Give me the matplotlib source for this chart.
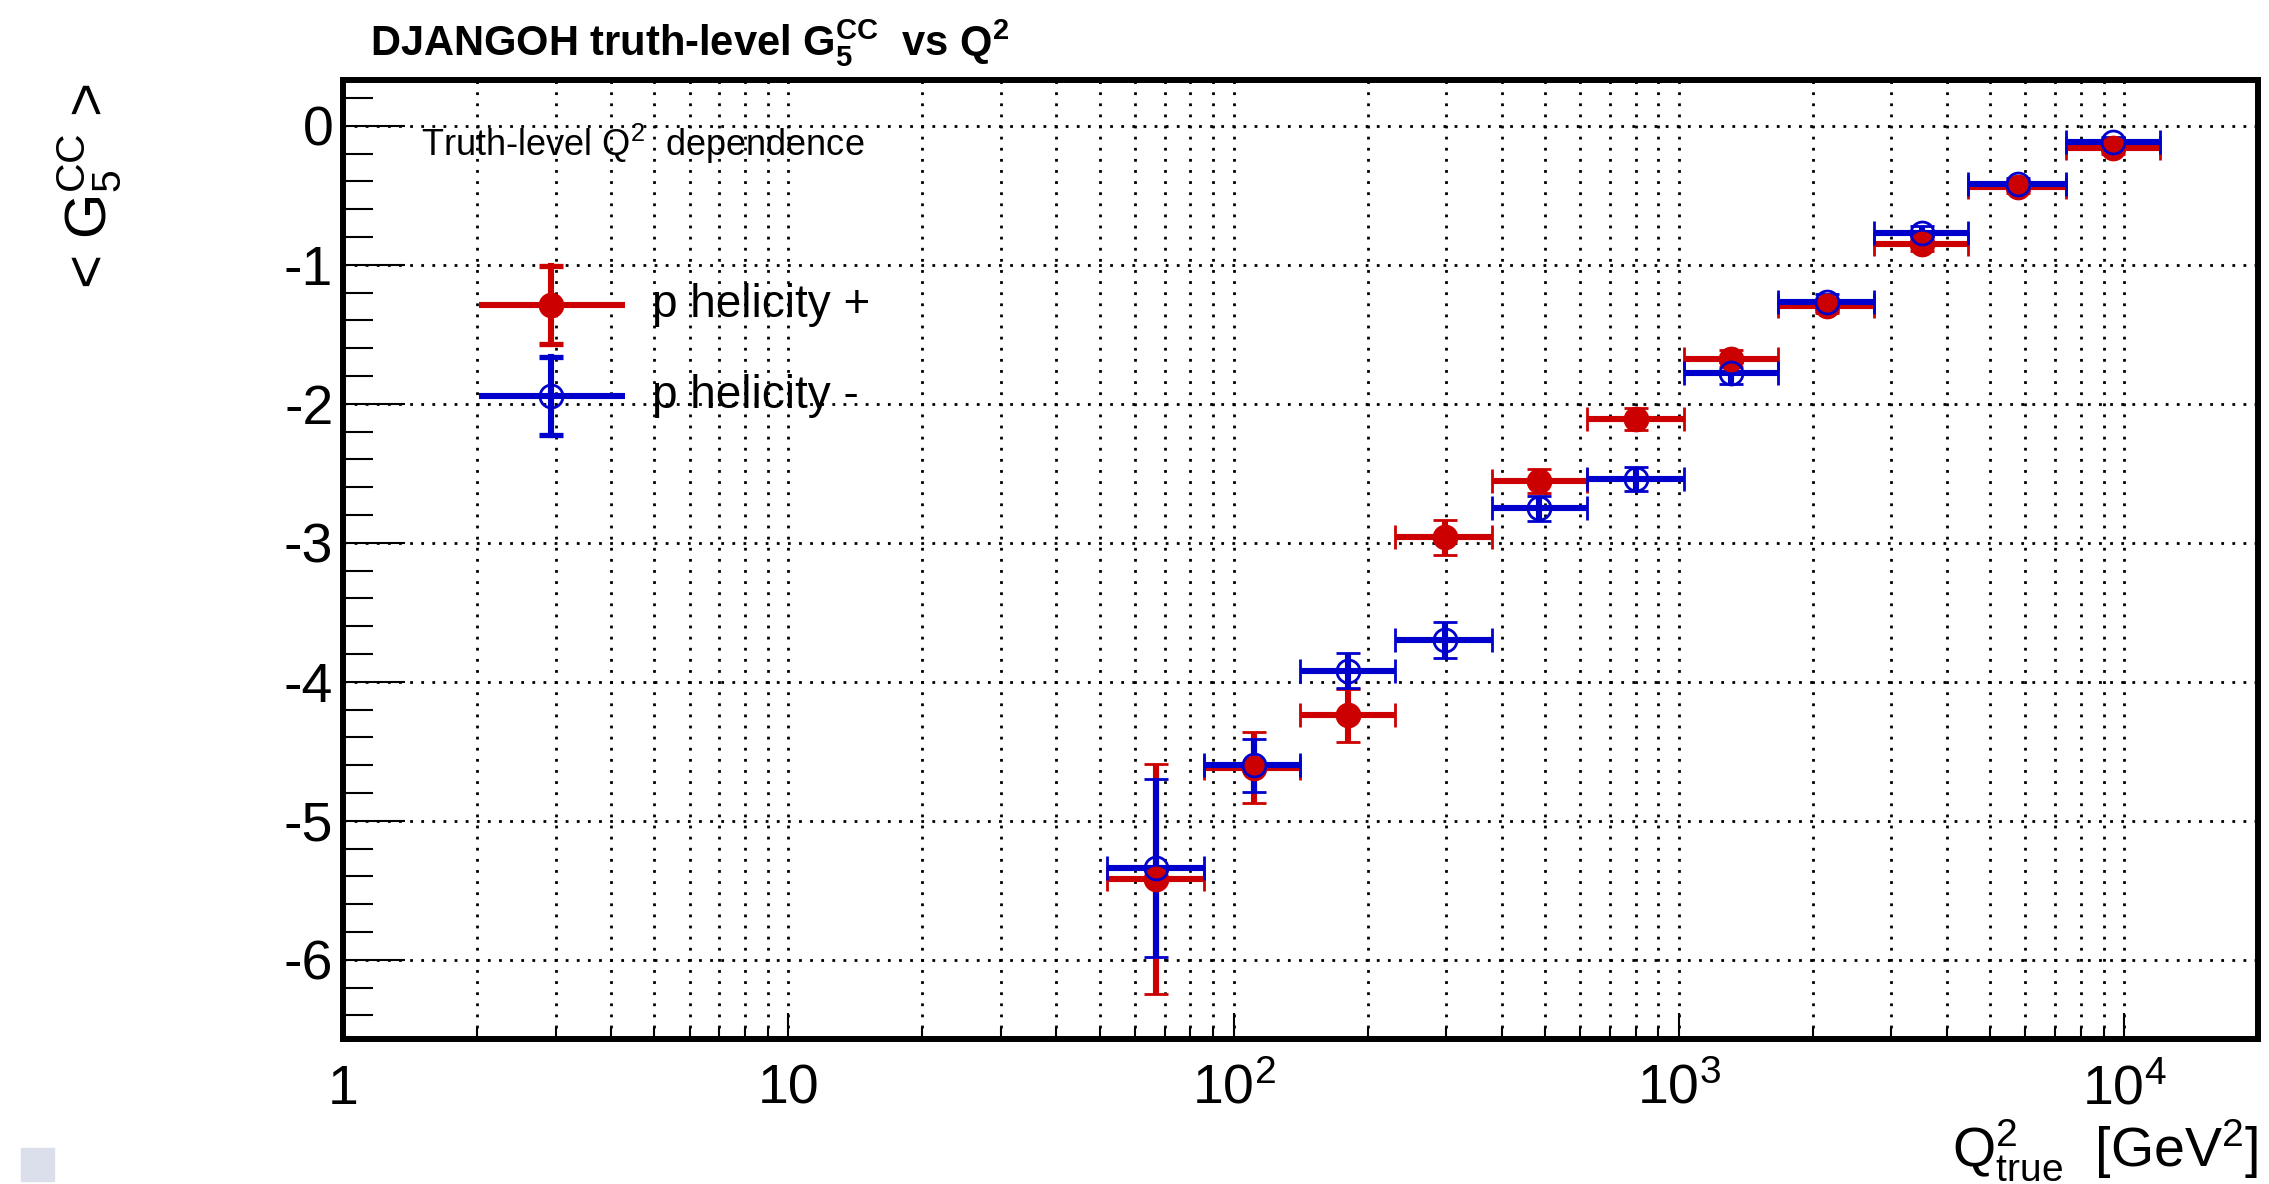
import matplotlib
matplotlib.use('Agg')
import matplotlib.pyplot as plt
from matplotlib.patches import Rectangle
from matplotlib.ticker import FixedLocator, FixedFormatter, LogLocator, MultipleLocator, NullFormatter

# Q^2 binning (GeV^2): point position and bin edges
q2_center = [67, 111, 181, 298, 485, 800, 1307, 2155, 3520, 5780, 9440]
q2_low = [52, 86, 141, 231, 381, 621, 1025, 1670, 2750, 4470, 7400]
q2_high = [86, 141, 231, 381, 621, 1025, 1670, 2750, 4470, 7400, 12050]

# <G5^CC> per bin for each proton helicity
g5_plus = [-5.42, -4.62, -4.24, -2.96, -2.555, -2.11, -1.675, -1.30, -0.85, -0.44, -0.16]
g5_plus_err = [0.83, 0.255, 0.19, 0.125, 0.085, 0.08, 0.06, 0.05, 0.05, 0.04, 0.04]
g5_minus = [-5.34, -4.60, -3.92, -3.70, -2.75, -2.54, -1.78, -1.27, -0.77, -0.42, -0.12]
g5_minus_err = [0.64, 0.19, 0.128, 0.127, 0.09, 0.087, 0.077, 0.06, 0.05, 0.045, 0.04]

x_tick_values = [1, 10, 100, 1000, 10000]
x_tick_labels = ['1', '10', r'$\mathregular{10^{2}}$', r'$\mathregular{10^{3}}$', r'$\mathregular{10^{4}}$']
y_tick_values = [0, -1, -2, -3, -4, -5, -6]
y_tick_labels = ['0', '-1', '-2', '-3', '-4', '-5', '-6']

series = [
	('p helicity +', g5_plus, g5_plus_err, '#cc0000', True),
	('p helicity -', g5_minus, g5_minus_err, '#0000cc', False),
]

plt.rcParams['font.family'] = ['Liberation Sans', 'DejaVu Sans']
plt.rcParams['mathtext.fontset'] = 'custom'
plt.rcParams['mathtext.rm'] = 'Liberation Sans'
plt.rcParams['mathtext.it'] = 'Liberation Sans:italic'
plt.rcParams['mathtext.bf'] = 'Liberation Sans:bold'

fig = plt.figure(figsize=(22.69, 11.84), dpi=100)
ax = fig.add_axes([0.1512, 0.1225, 0.844, 0.810])

LW = 4.4
CAP = 8.3
CAPW = 3.8
MS = 16.5

for label, vals, errs, color, filled in series:
	xerr = [[c - lo for c, lo in zip(q2_center, q2_low)],
			[hi - c for c, hi in zip(q2_center, q2_high)]]
	ax.errorbar(q2_center, vals, xerr=xerr, yerr=errs, fmt='o', color=color,
				ecolor=color, elinewidth=LW, capsize=CAP, capthick=CAPW,
				markersize=MS, markeredgewidth=2.0,
				markerfacecolor=color if filled else 'none',
				markeredgecolor=color, zorder=3)

ax.set_xscale('log')
ax.set_xlim(1, 2e4)
ax.set_ylim(-6.57, 0.33)

ax.xaxis.set_major_locator(FixedLocator(x_tick_values))
ax.xaxis.set_major_formatter(FixedFormatter(x_tick_labels))
ax.xaxis.set_minor_locator(LogLocator(base=10, subs=range(2, 10), numticks=20))
ax.xaxis.set_minor_formatter(NullFormatter())
ax.yaxis.set_major_locator(FixedLocator(y_tick_values))
ax.yaxis.set_major_formatter(FixedFormatter(y_tick_labels))
ax.yaxis.set_minor_locator(MultipleLocator(0.2))

ax.tick_params(which='both', direction='in', top=False, right=False, width=1.5, color='black')
ax.tick_params(axis='y', which='major', length=44.6, pad=7, labelsize=40)
ax.tick_params(axis='y', which='minor', length=21.6)
ax.tick_params(axis='x', which='major', length=19, pad=18, labelsize=40)
ax.tick_params(axis='x', which='minor', length=9)

grid_style = dict(color='black', linestyle=(0, (1, 3)), linewidth=2.0)
ax.grid(True, axis='x', which='both', **grid_style)
ax.grid(True, axis='y', which='major', **grid_style)
ax.set_axisbelow(True)

for side in ax.spines.values():
	side.set_linewidth(4.3)

# legend drawn by hand: line, vertical error bar, marker, text
leg_rows = [0.7654, 0.6705]
leg_x, leg_x0, leg_x1, leg_dy = 0.1086, 0.0710, 0.1473, 0.0407
for (label, vals, errs, color, filled), ly in zip(series, leg_rows):
	tr = ax.transAxes
	ax.plot([leg_x0, leg_x1], [ly, ly], color=color, lw=LW, transform=tr,
			solid_capstyle='butt', zorder=4)
	ax.plot([leg_x, leg_x], [ly - leg_dy, ly + leg_dy], color=color, lw=LW,
			marker='_', markersize=2 * CAP, markeredgewidth=CAPW, transform=tr, zorder=4)
	ax.plot([leg_x], [ly], 'o', color=color, markersize=MS, markeredgewidth=2.0,
			markerfacecolor=color if filled else 'none', transform=tr, zorder=5)
	ax.text(0.1614, ly, label, transform=tr, va='center', ha='left', fontsize=33)

ax.text(0.0407, 0.9207, r'Truth-level Q$^{2}$  dependence', transform=ax.transAxes,
		va='baseline', ha='left', fontsize=26)

fig.text(0.163, 0.9535, r'DJANGOH truth-level $\mathbf{G_{5}^{CC}}$  vs $\mathbf{Q^{2}}$',
		 fontsize=30, fontweight='bold', va='baseline', ha='left')
fig.text(0.0392, 0.93, r'< $\mathregular{G_{5}^{CC}}$ >', rotation=90,
		 ha='center', va='top', fontsize=42)
fig.text(0.9952, 0.0144, r'$\mathregular{Q^{2}_{true}}$  [GeV$^{2}$]',
		 ha='right', va='baseline', fontsize=40)

fig.patches.append(Rectangle((21 / 2269, 3 / 1184), 33 / 2269, 33 / 1184,
							 transform=fig.transFigure, color='#dadfeb', zorder=0))

fig.savefig('out.png', dpi=100)
